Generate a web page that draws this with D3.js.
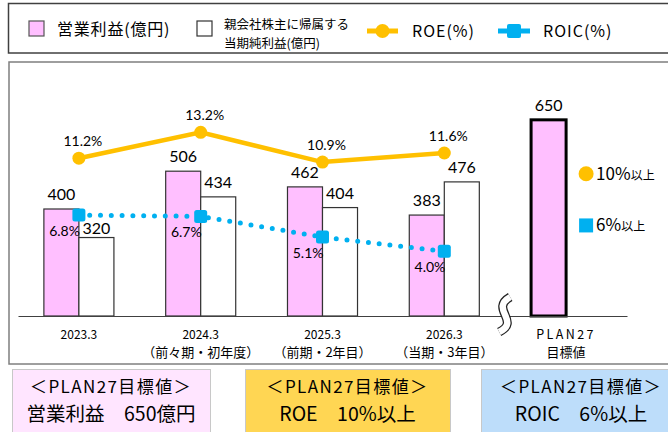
<!DOCTYPE html>
<html>
<head>
<meta charset="utf-8">
<script src="https://cdn.jsdelivr.net/npm/d3@7"></script>
<style>
body { margin: 0; background: #fff; }
svg { display: block; }
</style>
</head>
<body>
<div id="wrapper"></div>
<script>
// data
const categories = ["2023.3", "2024.3", "2025.3", "2026.3", "PLAN27"];
const subLabels = ["", "（前々期・初年度）", "（前期・2年目）", "（当期・3年目）", "目標値"];
const operatingProfit = [400, 506, 462, 383, 650];
const netProfit = [320, 434, 404, 476];
const roeValues = [11.2, 13.2, 10.9, 11.6];
const roicValues = [6.8, 6.7, 5.1, 4.0];
const roeTarget = 10;
const roicTarget = 6;
const targetTitle = "＜PLAN27目標値＞";
const targetTexts = ["営業利益　650億円", "ROE　10%以上", "ROIC　6%以上"];

const pink = "#FFBFFF";
const roeColor = "#FFC000";
const roicColor = "#00B0F0";
const jp = "'Noto Sans CJK JP', sans-serif";
const num = "Lato, 'Noto Sans', sans-serif";

function drawChart() {
	const width = 668, height = 432;
	const svg = d3.select("#wrapper").append("svg")
		.attr("width", width)
		.attr("height", height);

	// legend frame
	svg.append("rect")
		.attr("x", 8.5).attr("y", 3.5)
		.attr("width", 680).attr("height", 49.5)
		.attr("fill", "none").attr("stroke", "#404040").attr("stroke-width", 1.5);

	const legend = svg.append("g");
	legend.append("rect").attr("x", 29).attr("y", 21).attr("width", 15).attr("height", 15)
		.attr("fill", pink).attr("stroke", "#555").attr("stroke-width", 1.2);
	legend.append("text").attr("x", 57).attr("y", 35)
		.style("font-family", jp).style("font-size", "16px").style("letter-spacing", "0.8px")
		.text("営業利益(億円)");
	legend.append("rect").attr("x", 197).attr("y", 21).attr("width", 15).attr("height", 15)
		.attr("fill", "#fff").attr("stroke", "#333").attr("stroke-width", 1.2);
	legend.append("text").attr("x", 224).attr("y", 29)
		.style("font-family", jp).style("font-size", "12.5px").text("親会社株主に帰属する");
	legend.append("text").attr("x", 224).attr("y", 48)
		.style("font-family", jp).style("font-size", "12.5px").text("当期純利益(億円)");
	legend.append("line").attr("x1", 367).attr("x2", 398).attr("y1", 31).attr("y2", 31)
		.attr("stroke", roeColor).attr("stroke-width", 5);
	legend.append("circle").attr("cx", 382.5).attr("cy", 31).attr("r", 7).attr("fill", roeColor);
	legend.append("text").attr("x", 412).attr("y", 37)
		.style("font-family", jp).style("font-size", "16px").style("letter-spacing", "1px")
		.text("ROE(%)");
	legend.append("line").attr("x1", 498).attr("x2", 530).attr("y1", 31).attr("y2", 31)
		.attr("stroke", roicColor).attr("stroke-width", 5);
	legend.append("rect").attr("x", 507).attr("y", 24).attr("width", 14).attr("height", 14)
		.attr("rx", 2).attr("fill", roicColor);
	legend.append("text").attr("x", 543).attr("y", 37)
		.style("font-family", jp).style("font-size", "16px").style("letter-spacing", "1px")
		.text("ROIC(%)");

	// chart frame
	svg.append("rect")
		.attr("x", 9).attr("y", 62)
		.attr("width", 680).attr("height", 302)
		.attr("fill", "none").attr("stroke", "#7f7f7f").attr("stroke-width", 1.5);

	const xScale = d3.scaleBand()
		.domain(categories)
		.range([18, 627])
		.paddingInner(0.425)
		.paddingOuter(0.2125);
	const bw = xScale.bandwidth();
	const half = bw / 2;
	const center = c => xScale(c) + half;

	const yBar = d3.scaleLinear().domain([100, 700]).range([316, 102]);
	const yPct = d3.scaleLinear().domain([0, 14]).range([303, 122]);

	const bounds = svg.append("g");

	// operating profit bars
	bounds.selectAll(".op")
		.data(operatingProfit)
		.join("rect")
		.attr("class", "op")
		.attr("x", (d, i) => xScale(categories[i]))
		.attr("y", d => yBar(d))
		.attr("width", half)
		.attr("height", d => yBar(100) - yBar(d))
		.attr("fill", pink)
		.attr("stroke", (d, i) => i === 4 ? "#000" : "#333")
		.attr("stroke-width", (d, i) => i === 4 ? 3 : 1.2);

	// net profit bars
	bounds.selectAll(".net")
		.data(netProfit)
		.join("rect")
		.attr("class", "net")
		.attr("x", (d, i) => xScale(categories[i]) + half)
		.attr("y", d => yBar(d))
		.attr("width", half)
		.attr("height", d => yBar(100) - yBar(d))
		.attr("fill", "#fff")
		.attr("stroke", "#333")
		.attr("stroke-width", 1.2);

	bounds.selectAll(".opLabel")
		.data(operatingProfit)
		.join("text")
		.attr("x", (d, i) => xScale(categories[i]) + half / 2)
		.attr("y", d => yBar(d) - 9)
		.attr("text-anchor", "middle")
		.style("font-family", num).style("font-size", "16px")
		.text(d => d);

	bounds.selectAll(".netLabel")
		.data(netProfit)
		.join("text")
		.attr("x", (d, i) => xScale(categories[i]) + half * 1.5)
		.attr("y", (d, i) => yBar(d) - (i === 0 ? 4 : 9))
		.attr("text-anchor", "middle")
		.style("font-family", num).style("font-size", "16px")
		.text(d => d);

	// x axis
	const xAxisGenerator = d3.axisBottom(xScale).tickSize(0).tickSizeOuter(0);
	const xAxis = bounds.append("g")
		.attr("transform", "translate(0,316)")
		.call(xAxisGenerator);
	xAxis.select(".domain").attr("stroke", "#404040").attr("stroke-width", 1.2);
	xAxis.selectAll(".tick text").each(function(d, i) {
		const t = d3.select(this);
		t.text(null).attr("y", 23).attr("dy", null).attr("fill", "#000")
			.style("font-family", jp).style("font-size", i === 4 ? "12.5px" : "12px");
		t.append("tspan").attr("x", 0).text(d)
			.style("letter-spacing", i === 4 ? "2.4px" : null);
		if (subLabels[i]) {
			t.append("tspan").attr("x", 0).attr("dy", 18)
				.style("font-size", "13px")
				.text(subLabels[i]);
		}
	});

	// break mark
	const breakX = xScale("PLAN27") - xScale.step() * xScale.paddingInner() / 2;
	const breakPath = "M5,-18 C-16,-6 16,6 -6,17";
	const brk = bounds.append("g").attr("transform", `translate(${breakX},315)`);
	brk.append("path").attr("d", breakPath).attr("fill", "none")
		.attr("stroke", "#222").attr("stroke-width", 9);
	brk.append("path").attr("d", breakPath).attr("fill", "none")
		.attr("stroke", "#fff").attr("stroke-width", 6.5);

	// ROE line
	const roeLine = d3.line()
		.x((d, i) => center(categories[i]))
		.y(d => yPct(d));
	bounds.append("path")
		.attr("d", roeLine(roeValues))
		.attr("fill", "none")
		.attr("stroke", roeColor)
		.attr("stroke-width", 4.5);
	bounds.selectAll(".roeDot")
		.data(roeValues)
		.join("circle")
		.attr("cx", (d, i) => center(categories[i]))
		.attr("cy", d => yPct(d))
		.attr("r", 6.5)
		.attr("fill", roeColor);
	bounds.selectAll(".roeLabel")
		.data(roeValues)
		.join("text")
		.attr("x", (d, i) => center(categories[i]) + 4)
		.attr("y", d => yPct(d) - 12)
		.attr("text-anchor", "middle")
		.style("font-family", num).style("font-size", "14px")
		.text(d => d.toFixed(1) + "%");

	// ROIC line
	bounds.append("path")
		.attr("d", roeLine(roicValues))
		.attr("fill", "none")
		.attr("stroke", roicColor)
		.attr("stroke-width", 5)
		.attr("stroke-linecap", "round")
		.attr("stroke-dasharray", "0 10.8");
	bounds.selectAll(".roicMark")
		.data(roicValues)
		.join("rect")
		.attr("x", (d, i) => center(categories[i]) - 6.5)
		.attr("y", d => yPct(d) - 6.5)
		.attr("width", 13).attr("height", 13).attr("rx", 2.5)
		.attr("fill", roicColor);
	bounds.selectAll(".roicLabel")
		.data(roicValues)
		.join("text")
		.attr("x", (d, i) => center(categories[i]) + 1)
		.attr("y", d => yPct(d) + 21)
		.attr("text-anchor", "end")
		.style("font-family", num).style("font-size", "14px")
		.text(d => d.toFixed(1) + "%");

	// target markers
	const tx = center("PLAN27") + 20;
	bounds.append("circle").attr("cx", tx).attr("cy", yPct(roeTarget)).attr("r", 7.5).attr("fill", roeColor);
	const t1 = bounds.append("text").attr("x", tx + 10).attr("y", yPct(roeTarget) + 6)
		.style("font-family", jp).style("font-size", "17px");
	t1.append("tspan").text(roeTarget + "%");
	t1.append("tspan").style("font-size", "12px").text("以上");
	bounds.append("rect").attr("x", tx - 7).attr("y", yPct(roicTarget) - 7)
		.attr("width", 14).attr("height", 14).attr("fill", roicColor);
	const t2 = bounds.append("text").attr("x", tx + 10).attr("y", yPct(roicTarget) + 6)
		.style("font-family", jp).style("font-size", "17px");
	t2.append("tspan").text(roicTarget + "%");
	t2.append("tspan").style("font-size", "12px").text("以上");

	// target boxes
	const boxX = [12, 245, 481];
	const boxW = [198, 205, 200];
	const boxFill = ["#FFE5FF", "#FFD653", "#BDDDFA"];
	const boxes = svg.selectAll(".box")
		.data(targetTexts)
		.join("g")
		.attr("class", "box")
		.attr("transform", (d, i) => `translate(${boxX[i]},369)`);
	boxes.append("rect")
		.attr("x", 0.5).attr("y", 0.5)
		.attr("width", (d, i) => boxW[i]).attr("height", 80)
		.attr("fill", (d, i) => boxFill[i])
		.attr("stroke", "#c8c8c8");
	boxes.append("text")
		.attr("x", (d, i) => boxW[i] / 2).attr("y", 24)
		.attr("text-anchor", "middle")
		.style("font-family", jp).style("font-size", "17px").style("letter-spacing", "1.4px")
		.text(targetTitle);
	boxes.append("text")
		.attr("x", (d, i) => boxW[i] / 2).attr("y", 52)
		.attr("text-anchor", "middle")
		.style("font-family", jp).style("font-size", "19.5px")
		.text(d => d);
}

drawChart();
</script>
</body>
</html>
